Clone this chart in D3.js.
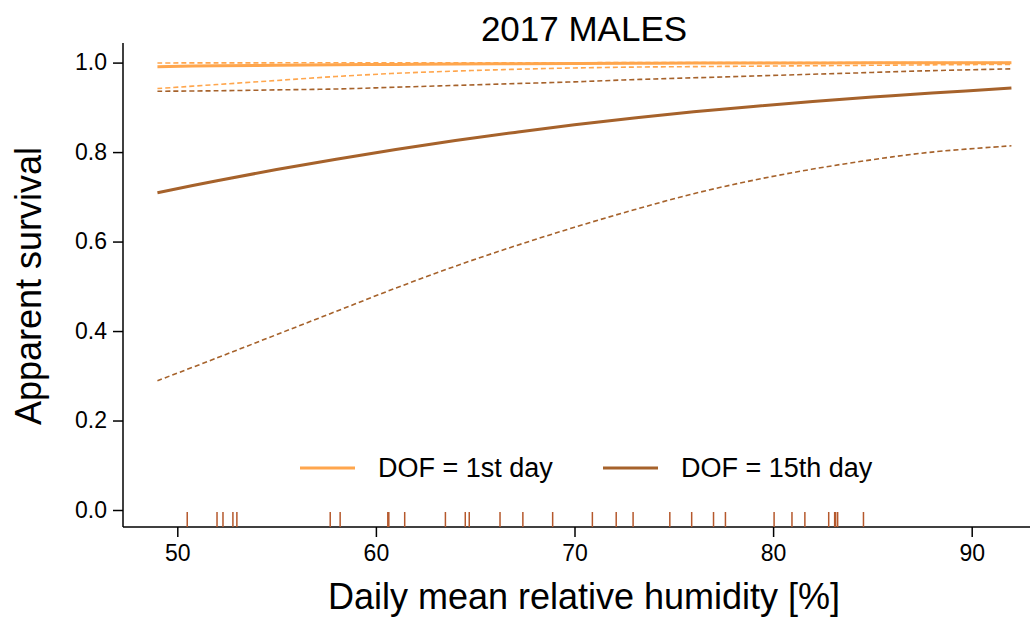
<!DOCTYPE html>
<html>
<head>
<meta charset="utf-8">
<script src="https://cdn.jsdelivr.net/npm/d3@7"></script>
<style>
  body { margin: 0; background: #fff; }
  text { font-family: "Liberation Sans", Arial, sans-serif; fill: #000; }
</style>
</head>
<body>
<svg id="chart" width="1035" height="617"></svg>
<script>
var humidity = [49, 52, 55, 58, 61, 64, 67, 70, 73, 76, 79, 82, 85, 88, 92];

// DOF = 1st day (estimate, lower and upper CI)
var day1Fit   = [0.991, 0.993, 0.994, 0.995, 0.996, 0.997, 0.9975, 0.998, 0.9985, 0.999, 0.999, 0.9993, 0.9995, 0.9996, 0.9997];
var day1Lower = [0.942, 0.951, 0.960, 0.969, 0.976, 0.981, 0.985, 0.988, 0.990, 0.991, 0.992, 0.993, 0.994, 0.995, 0.996];
var day1Upper = [0.9992, 0.9994, 0.9995, 0.9996, 0.9997, 0.9997, 0.9998, 0.9998, 0.9999, 0.9999, 0.9999, 0.9999, 1.0, 1.0, 1.0];

// DOF = 15th day
var day15Fit   = [0.709, 0.736, 0.761, 0.784, 0.806, 0.826, 0.844, 0.861, 0.876, 0.890, 0.902, 0.913, 0.923, 0.932, 0.943];
var day15Lower = [0.289, 0.340, 0.392, 0.444, 0.496, 0.545, 0.590, 0.632, 0.671, 0.707, 0.737, 0.762, 0.783, 0.800, 0.814];
var day15Upper = [0.936, 0.937, 0.939, 0.941, 0.945, 0.949, 0.953, 0.957, 0.962, 0.966, 0.970, 0.974, 0.978, 0.982, 0.986];

// observed daily humidity (rug)
var rugValues = [50.5, 52.0, 52.3, 52.8, 53.0, 57.7, 58.2, 60.6, 60.65, 61.45, 63.5, 64.5, 64.7, 66.25, 67.4,
                 68.9, 70.9, 72.1, 72.95, 74.8, 75.9, 77.0, 77.6, 80.05, 80.95, 81.6, 82.8, 83.1, 83.15, 83.25, 84.55];

var xTicks = [50, 60, 70, 80, 90];
var yTicks = [0, 0.2, 0.4, 0.6, 0.8, 1.0];

var colors = { day1: "#ffa64d", day15: "#a6622b", rug: "#b5582c" };

var box = { left: 123, right: 1030, top: 43, bottom: 527 };

var svg = d3.select("#chart");

var x = d3.scaleLinear().domain([50, 90]).range([177.3, 971.7]);
var y = d3.scaleLinear().domain([0, 1]).range([510, 62.6]);

// axes
var yAxis = svg.append("g")
  .attr("transform", "translate(" + box.left + ",0)")
  .call(d3.axisLeft(y).tickValues(yTicks).tickFormat(d3.format(".1f")).tickSize(10).tickSizeOuter(0).tickPadding(6));
yAxis.select(".domain").remove();
yAxis.selectAll("text").style("font-size", "23px").attr("font-family", null);
yAxis.selectAll("line").attr("stroke-width", 1.5);

var xAxis = svg.append("g")
  .attr("transform", "translate(0," + box.bottom + ")")
  .call(d3.axisBottom(x).tickValues(xTicks).tickSize(10).tickSizeOuter(0).tickPadding(8));
xAxis.select(".domain").remove();
xAxis.selectAll("text").style("font-size", "23px").attr("font-family", null);
xAxis.selectAll("line").attr("stroke-width", 1.5);

svg.append("line")
  .attr("x1", box.left).attr("x2", box.left)
  .attr("y1", box.top).attr("y2", box.bottom)
  .attr("stroke", "#000").attr("stroke-width", 1.5);
svg.append("line")
  .attr("x1", box.left).attr("x2", box.right)
  .attr("y1", box.bottom).attr("y2", box.bottom)
  .attr("stroke", "#000").attr("stroke-width", 1.5);

// curves
var line = d3.line()
  .x(function(d) { return x(d[0]); })
  .y(function(d) { return y(d[1]); })
  .curve(d3.curveCatmullRom.alpha(0.5));

var curves = [
  { vals: day15Lower, color: colors.day15, dash: true },
  { vals: day15Upper, color: colors.day15, dash: true },
  { vals: day1Lower,  color: colors.day1,  dash: true },
  { vals: day15Fit,   color: colors.day15, dash: false },
  { vals: day1Fit,    color: colors.day1,  dash: false },
  { vals: day1Upper,  color: colors.day1,  dash: true }
];

svg.append("g").selectAll("path")
  .data(curves)
  .enter().append("path")
    .attr("d", function(c) { return line(humidity.map(function(h, i) { return [h, c.vals[i]]; })); })
    .attr("fill", "none")
    .attr("stroke", function(c) { return c.color; })
    .attr("stroke-width", function(c) { return c.dash ? 1.6 : 3; })
    .attr("stroke-dasharray", function(c) { return c.dash ? "5,3" : null; });

// rug
svg.append("g").selectAll("line")
  .data(rugValues)
  .enter().append("line")
    .attr("x1", function(d) { return x(d); })
    .attr("x2", function(d) { return x(d); })
    .attr("y1", 512).attr("y2", box.bottom)
    .attr("stroke", colors.rug)
    .attr("stroke-width", 1.5);

// legend
var legendItems = [
  { label: "DOF = 1st day", color: colors.day1, x: 300 },
  { label: "DOF = 15th day", color: colors.day15, x: 603 }
];
var leg = svg.append("g").selectAll("g")
  .data(legendItems)
  .enter().append("g")
    .attr("transform", function(d) { return "translate(" + d.x + ",468)"; });
leg.append("line")
  .attr("x1", 0).attr("x2", 55)
  .attr("stroke", function(d) { return d.color; })
  .attr("stroke-width", 3);
leg.append("text")
  .attr("x", 78).attr("dy", "0.35em")
  .style("font-size", "27px")
  .text(function(d) { return d.label; });

// titles
svg.append("text")
  .attr("x", 584).attr("y", 41)
  .attr("text-anchor", "middle")
  .style("font-size", "35px")
  .text("2017 MALES");

svg.append("text")
  .attr("x", 584).attr("y", 609)
  .attr("text-anchor", "middle")
  .style("font-size", "36px")
  .text("Daily mean relative humidity [%]");

svg.append("text")
  .attr("transform", "translate(41,286) rotate(-90)")
  .attr("text-anchor", "middle")
  .style("font-size", "36px")
  .text("Apparent survival");
</script>
</body>
</html>
